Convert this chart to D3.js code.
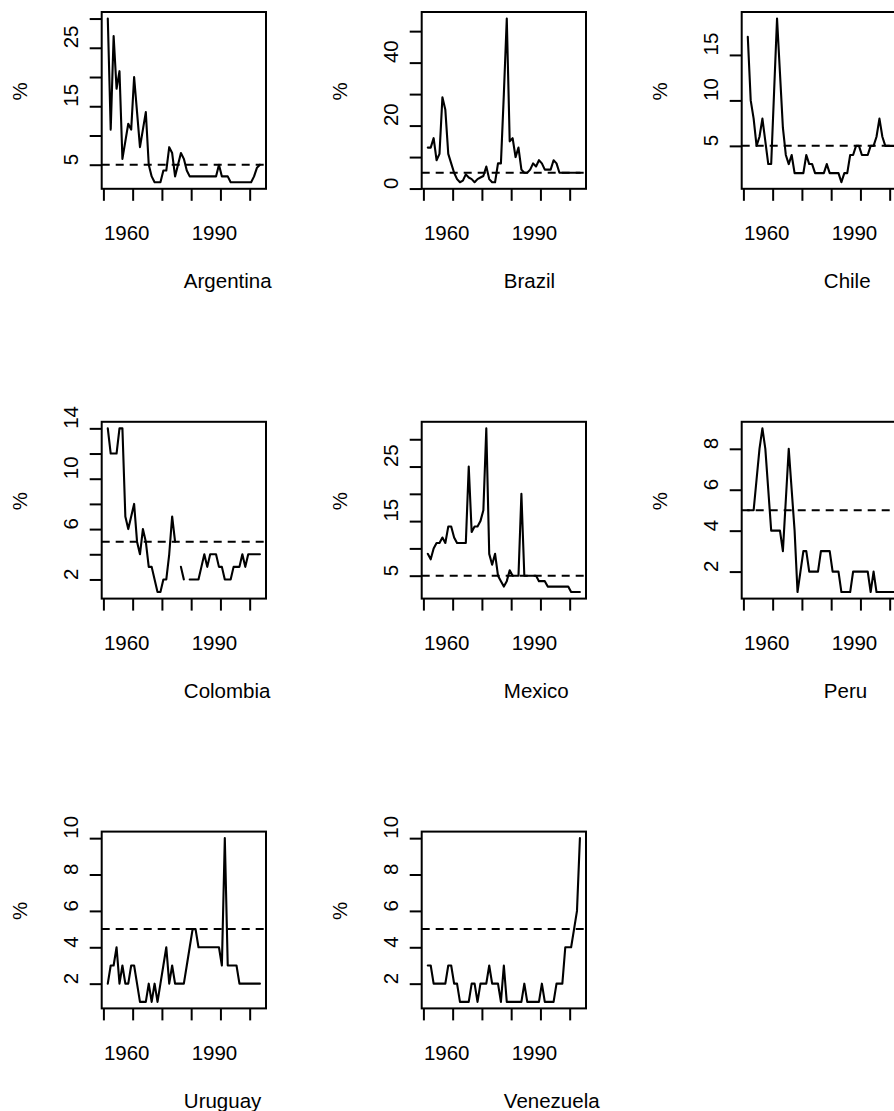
<!DOCTYPE html>
<html>
<head>
<meta charset="utf-8">
<script src="https://cdn.jsdelivr.net/npm/d3@7"></script>
<style>
  html, body { margin: 0; padding: 0; background: #fff; }
  svg { display: block; }
  text { font-family: "Liberation Sans", Arial, Helvetica, sans-serif; font-size: 20.5px; fill: #000; }
</style>
</head>
<body>
<svg id="chart" width="894" height="1111"></svg>
<script>
// yearly observations, 1961 - 2013 (plotted at mid-year)
const years = d3.range(1961, 2014);
const countries = ["Argentina", "Brazil", "Chile", "Colombia", "Mexico", "Peru", "Uruguay", "Venezuela"];

const argentina = [30,11,27,18,21,6,9,12,11,20, 14,8,11,14,5,3,2,2,2,4, 4,8,7,3,5,7,6,4,3,3,
                   3,3,3,3,3,3,3,3,5,3, 3,3,2,2,2,2,2,2,2,2, 3,4.5,5];
const brazil = [13,13,16,9,11,29,25,11,8,5, 3,2,2.5,4.5,3.5,3,2,3,3.5,4, 7,3,2,2,8,8,30,54,15,16,
                10,13,6,5,5,6,8,7,9,8, 6,6,6,9,8,5,5,5,5,5, 5,5,5];
const chile = [17,10,8,5,6,8,5.5,3,3,11, 19,13,7,4,3,4,2,2,2,2, 4,3,3,2,2,2,2,3,2,2,
               2,2,1,2,2,4,4,5,5,4, 4,4,5,5,6,8,6,5,5,5, 5,5,5];
const colombia = [14,12,12,12,14,14,7,6,7,8, 5,4,6,5,3,3,2,1,1,2, 2,4,7,5,null,3,2,null,2,2,
                  2,2,3,4,3,4,4,4,3,3, 2,2,2,3,3,3,4,3,4,4, 4,4,4];
const mexico = [9,8,10,11,11,12,11,14,14,12, 11,11,11,11,25,13,14,14,15,17, 32,9,7,9,5,4,3,4,6,5,
                5,5,20,5,5,5,5,5,4,4, 4,3,3,3,3,3,3,3,3,2, 2,2,2];
const peru = [5,5,5,6.5,8,9,8,6,4,4, 4,4,3,5.5,8,6,4,1,2,3, 3,2,2,2,2,3,3,3,3,2,
              2,2,1,1,1,1,2,2,2,2, 2,2,1,2,1,1,1,1,1,1, 1,1,1];
const uruguay = [2,3,3,4,2,3,2,2,3,3, 2,1,1,1,2,1,2,1,2,3, 4,2,3,2,2,2,2,3,4,5,
                 5,4,4,4,4,4,4,4,4,3, 10,3,3,3,3,2,2,2,2,2, 2,2,2];
const venezuela = [3,3,2,2,2,2,2,3,3,2, 2,1,1,1,1,2,2,1,2,2, 2,3,2,2,2,1,3,1,1,1,
                   1,1,1,2,1,1,1,1,1,2, 1,1,1,1,2,2,2,4,4,4, 5,6,10];

const series = [argentina, brazil, chile, colombia, mexico, peru, uruguay, venezuela];
const threshold = 5;   // dashed reference line

// page layout (3 x 3 grid, the right column runs past the page edge)
const cellW = 320, cellH = 409.8;
const plotLeft = 101.7, plotTop = 12;
const plotW = 164.3, plotH = 176.8;
const tickLen = 12;

const svg = d3.select('#chart');

// width of an "m" sets the minimum gap between axis labels, like R does
const probe = svg.append('text').text('m');
const mWidth = probe.node().getComputedTextLength();
probe.remove();

// R style axis range: data extent stretched by 4% at both ends
function padded(vals) {
    const [lo, hi] = d3.extent(vals);
    const d = (hi - lo) * 0.04;
    return [lo - d, hi + d];
}

// drop labels whose centred extent would crowd the last label kept
function thinLabels(texts, along) {
    let last = -Infinity;
    texts.each(function(d) {
        const w = this.getComputedTextLength();
        const c = along(d);
        if (c - w / 2 - last >= mWidth) {
            last = c + w / 2;
        } else {
            d3.select(this).remove();
        }
    });
}

const mid = years.map(yr => yr + 0.5);

countries.forEach((name, k) => {
    const col = k % 3, row = Math.floor(k / 3);
    const values = series[k];
    const data = years.map((yr, i) => ({ t: mid[i], v: values[i] }));

    const g = svg.append('g')
        .attr('transform', `translate(${col * cellW + plotLeft},${row * cellH + plotTop})`);

    const x = d3.scaleLinear().domain(padded(mid)).range([0, plotW]);
    const y = d3.scaleLinear().domain(padded(values.filter(v => v != null))).range([plotH, 0]);

    // x axis
    const xAxis = g.append('g')
        .attr('transform', `translate(0,${plotH})`)
        .call(d3.axisBottom(x).ticks(5).tickFormat(d3.format('d')).tickSize(tickLen).tickSizeOuter(0));
    xAxis.select('.domain').remove();
    xAxis.selectAll('line').attr('stroke-width', 2);
    const xt = xAxis.selectAll('text')
        .attr('fill', '#000')
        .attr('text-anchor', 'start')
        .attr('x', 0)
        .attr('y', 51.5)
        .attr('dy', null);
    thinLabels(xt, d => x(d));

    // y axis, labels turned to run upwards
    const yAxis = g.append('g')
        .call(d3.axisLeft(y).ticks(5).tickSize(tickLen).tickSizeOuter(0));
    yAxis.select('.domain').remove();
    yAxis.selectAll('line').attr('stroke-width', 2);
    const yt = yAxis.selectAll('text')
        .attr('fill', '#000')
        .attr('text-anchor', 'start')
        .attr('transform', 'rotate(-90)')
        .attr('x', 0)
        .attr('y', -23.4)
        .attr('dy', null);
    thinLabels(yt, d => -y(d));

    // axis titles
    g.append('text')
        .attr('transform', `translate(-75,${plotH / 2}) rotate(-90)`)
        .attr('text-anchor', 'start')
        .text('%');
    g.append('text')
        .attr('x', plotW / 2)
        .attr('y', plotH + 99.5)
        .attr('text-anchor', 'start')
        .text(name);

    // reference line
    g.append('line')
        .attr('x1', 0).attr('x2', plotW)
        .attr('y1', y(threshold)).attr('y2', y(threshold))
        .attr('stroke', '#000')
        .attr('stroke-width', 2)
        .attr('stroke-dasharray', '8,6');

    // series
    const line = d3.line()
        .defined(d => d.v != null)
        .x(d => x(d.t))
        .y(d => y(d.v));
    g.append('path')
        .datum(data)
        .attr('d', line)
        .attr('fill', 'none')
        .attr('stroke', '#000')
        .attr('stroke-width', 2.1)
        .attr('stroke-linejoin', 'round')
        .attr('stroke-linecap', 'round');

    // plot box
    g.append('rect')
        .attr('width', plotW)
        .attr('height', plotH)
        .attr('fill', 'none')
        .attr('stroke', '#000')
        .attr('stroke-width', 2);
});
</script>
</body>
</html>
